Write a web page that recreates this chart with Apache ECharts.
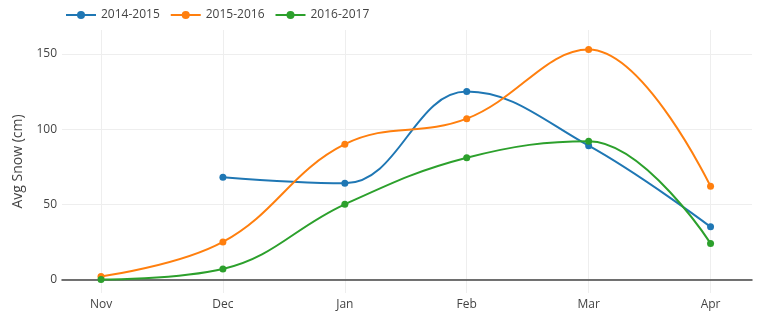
<!DOCTYPE html>
<html>
<head>
<meta charset="utf-8">
<script src="https://cdn.jsdelivr.net/npm/echarts@6/dist/echarts.min.js"></script>
<style>html,body{margin:0;padding:0;background:#fff}#c{width:772px;height:325px}</style>
</head>
<body>
<div id="c"></div>
<script>
var categories = ['Nov', 'Dec', 'Jan', 'Feb', 'Mar', 'Apr'];
var seriesNames = ['2014-2015', '2015-2016', '2016-2017'];
var s2014 = [null, 68, 64, 125, 89, 35];
var s2015 = [2, 25, 90, 107, 153, 62];
var s2016 = [0, 7, 50, 81, 92, 24];
var yTicks = [0, 50, 100, 150];
var colors = ['#1f77b4', '#ff7f0e', '#2ca02c'];

function pairs(arr) {
  var out = [];
  arr.forEach(function (v, i) { if (v !== null) out.push([i, v]); });
  return out;
}
var xIdx = categories.map(function (c, i) { return i; });
var font = '"Open Sans", sans-serif';

var chart = echarts.init(document.getElementById('c'));
chart.setOption({
  animation: false,
  color: colors,
  textStyle: { fontFamily: font },
  legend: {
    left: 60, top: 4, itemWidth: 30, itemHeight: 10, itemGap: 10,
    textStyle: { fontFamily: font, fontSize: 12, color: '#444' },
    data: seriesNames
  },
  grid: { left: 62, right: 20, top: 30, bottom: 32, containLabel: false },
  xAxis: {
    type: 'value', min: -0.32, max: 5.34,
    axisLine: { onZero: true, lineStyle: { color: '#444', width: 1.5 } },
    axisTick: { show: false, customValues: xIdx },
    axisLabel: {
      customValues: xIdx, margin: 6, color: '#444', fontSize: 12, fontFamily: font,
      formatter: function (v) { return categories[Math.round(v)]; }
    },
    splitLine: { show: true, lineStyle: { color: '#eee', width: 1 } }
  },
  yAxis: {
    type: 'value', min: -9, max: 166,
    name: 'Avg Snow (cm)', nameLocation: 'middle', nameGap: 37,
    nameTextStyle: { color: '#444', fontSize: 14, fontFamily: font },
    axisLine: { show: false },
    axisTick: { show: false, customValues: yTicks },
    axisLabel: { customValues: yTicks, margin: 5, color: '#444', fontSize: 12, fontFamily: font },
    splitLine: { show: true, lineStyle: { color: '#eee', width: 1 } }
  },
  series: [s2014, s2015, s2016].map(function (arr, k) {
    return {
      name: seriesNames[k], type: 'line', data: pairs(arr), smooth: 0.4,
      symbol: 'circle', symbolSize: 7,
      lineStyle: { width: 2, color: colors[k] },
      itemStyle: { color: colors[k] }
    };
  })
});
</script>
</body>
</html>
